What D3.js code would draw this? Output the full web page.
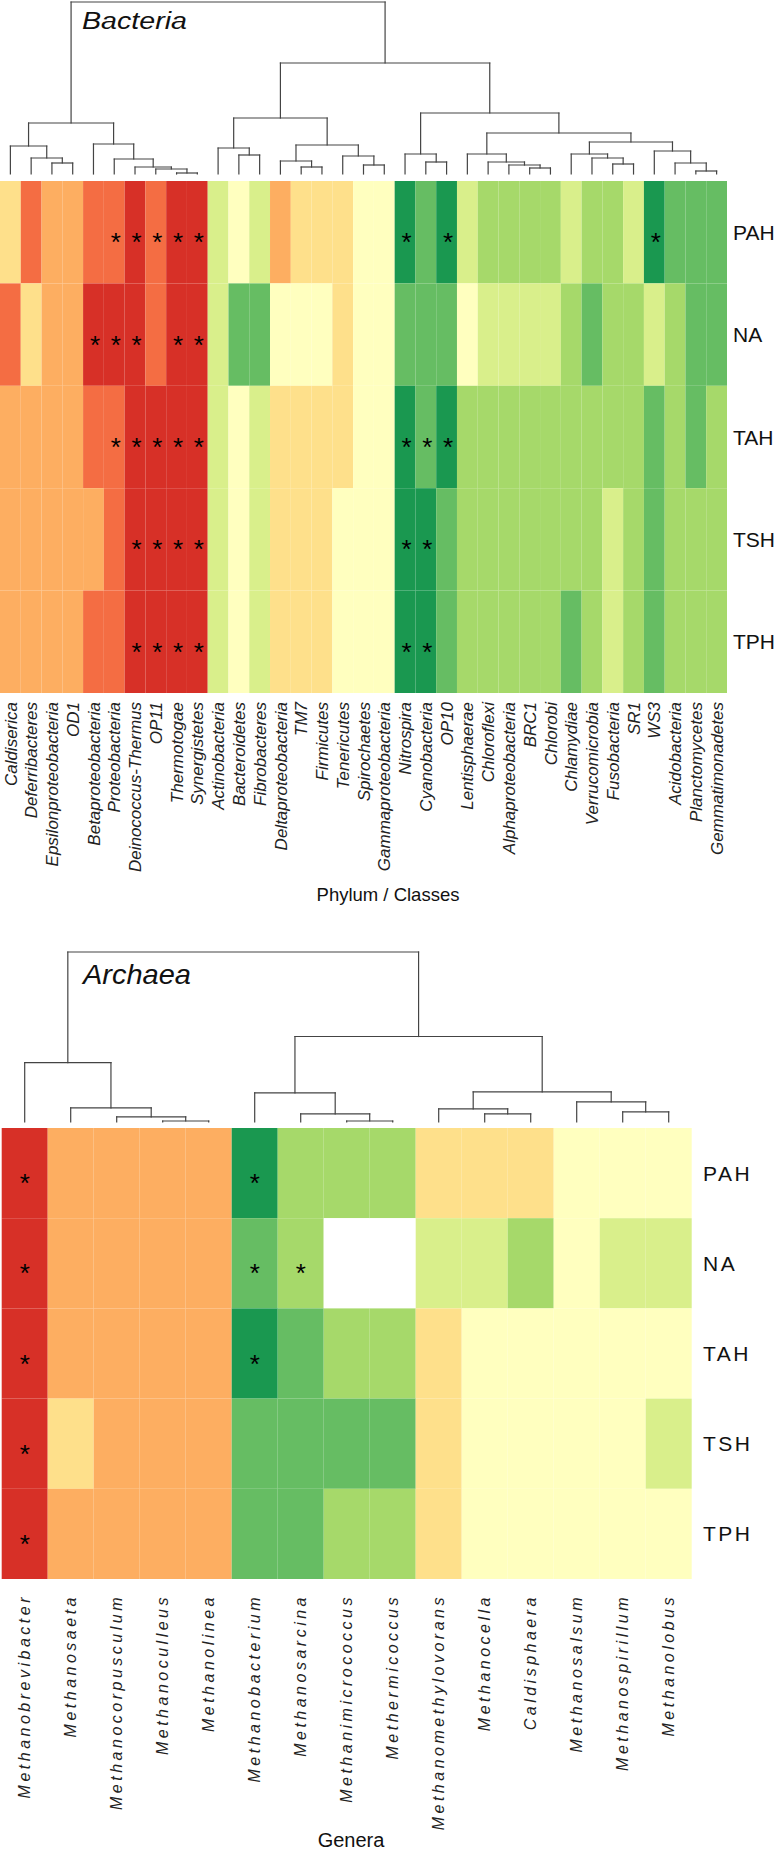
<!DOCTYPE html>
<html><head><meta charset="utf-8">
<script src="https://cdn.jsdelivr.net/npm/d3@7"></script>
<style>
body{margin:0;background:#fff}
svg{display:block}
text{font-family:"Liberation Sans",Arial,Helvetica,sans-serif;fill:#111}
</style>
</head><body>
<svg id="chart" width="780" height="1853"></svg>
<script>
// ---------------- DATA ----------------
const treatments = ["PAH", "NA", "TAH", "TSH", "TPH"];

// colour class 1 (most depleted, red) ... 9 (most enriched, dark green); null = no data
const levelColors = ["#d73027","#f46d43","#fdae61","#fee08b","#ffffbf","#d9ef8b","#a6d96a","#66bd63","#1a9850"];

const bacteriaTaxa = ["Caldiserica","Deferribacteres","Epsilonproteobacteria","OD1","Betaproteobacteria",
  "Proteobacteria","Deinococcus-Thermus","OP11","Thermotogae","Synergistetes","Actinobacteria",
  "Bacteroidetes","Fibrobacteres","Deltaproteobacteria","TM7","Firmicutes","Tenericutes","Spirochaetes",
  "Gammaproteobacteria","Nitrospira","Cyanobacteria","OP10","Lentisphaerae","Chloroflexi",
  "Alphaproteobacteria","BRC1","Chlorobi","Chlamydiae","Verrucomicrobia","Fusobacteria","SR1","WS3",
  "Acidobacteria","Planctomycetes","Gemmatimonadetes"];

const bacteriaPAH = [4,2,3,3,2,2,1,2,1,1, 6,5,6,3,4,4,4,5,5, 9,8,9,6,7,7,7,7,6,7,7,6,9,8,8,8];
const bacteriaNA  = [2,4,3,3,1,1,1,2,1,1, 6,8,8,5,5,5,4,5,5, 8,8,8,5,6,6,6,6,7,8,7,7,6,7,8,8];
const bacteriaTAH = [3,3,3,3,2,2,1,1,1,1, 6,5,6,4,4,4,4,5,5, 9,8,9,7,7,7,7,7,7,7,7,7,8,7,8,7];
const bacteriaTSH = [3,3,3,3,3,2,1,1,1,1, 6,5,6,4,4,4,5,5,5, 9,9,8,7,7,7,7,7,7,7,6,7,8,7,7,7];
const bacteriaTPH = [3,3,3,3,2,2,1,1,1,1, 6,5,6,4,4,4,5,5,5, 9,9,8,7,7,7,7,7,8,7,6,7,8,7,7,7];

const bacteriaSigPAH = ["Proteobacteria","Deinococcus-Thermus","OP11","Thermotogae","Synergistetes","Nitrospira","OP10","WS3"];
const bacteriaSigNA  = ["Betaproteobacteria","Proteobacteria","Deinococcus-Thermus","Thermotogae","Synergistetes"];
const bacteriaSigTAH = ["Proteobacteria","Deinococcus-Thermus","OP11","Thermotogae","Synergistetes","Nitrospira","Cyanobacteria","OP10"];
const bacteriaSigTSH = ["Deinococcus-Thermus","OP11","Thermotogae","Synergistetes","Nitrospira","Cyanobacteria"];
const bacteriaSigTPH = ["Deinococcus-Thermus","OP11","Thermotogae","Synergistetes","Nitrospira","Cyanobacteria"];

// dendrogram: [merge height, left, right]
const bacteriaTree =
[17.2,
  [5.1,
    [2.8, "Caldiserica", [1.6, "Deferribacteres", [1.1, "Epsilonproteobacteria", "OD1"]]],
    [3.0, "Betaproteobacteria", [1.5, "Proteobacteria", [0.7, "Deinococcus-Thermus", [0.5, "OP11", [0.1, "Thermotogae", "Synergistetes"]]]]]
  ],
  [11.1,
    [5.6,
      [2.6, "Actinobacteria", [1.9, "Bacteroidetes", "Fibrobacteres"]],
      [2.9,
        [1.3, "Deltaproteobacteria", [0.7, "TM7", "Firmicutes"]],
        [1.8, "Tenericutes", [0.9, "Spirochaetes", "Gammaproteobacteria"]]
      ]
    ],
    [6.1,
      [2.0, "Nitrospira", [1.2, "Cyanobacteria", "OP10"]],
      [4.1,
        [2.0, "Lentisphaerae", [1.2, "Chloroflexi", [0.9, "Alphaproteobacteria", [0.6, "BRC1", "Chlorobi"]]]],
        [3.2,
          [2.0, "Chlamydiae", [1.6, "Verrucomicrobia", [1.0, "Fusobacteria", "SR1"]]],
          [2.3, "WS3", [1.1, "Acidobacteria", [0.3, "Planctomycetes", "Gemmatimonadetes"]]]
        ]
      ]
    ]
  ]
];

const archaeaGenera = ["Methanobrevibacter","Methanosaeta","Methanocorpusculum","Methanoculleus","Methanolinea",
  "Methanobacterium","Methanosarcina","Methanimicrococcus","Methermicoccus","Methanomethylovorans",
  "Methanocella","Caldisphaera","Methanosalsum","Methanospirillum","Methanolobus"];

const archaeaPAH = [1,3,3,3,3,9,7,7,7,4,4,4,5,5,5];
const archaeaNA  = [1,3,3,3,3,8,7,null,null,6,6,7,5,6,6];
const archaeaTAH = [1,3,3,3,3,9,8,7,7,4,5,5,5,5,5];
const archaeaTSH = [1,4,3,3,3,8,8,8,8,4,5,5,5,5,6];
const archaeaTPH = [1,3,3,3,3,8,8,7,7,4,5,5,5,5,5];

const archaeaSigPAH = ["Methanobrevibacter","Methanobacterium"];
const archaeaSigNA  = ["Methanobrevibacter","Methanobacterium","Methanosarcina"];
const archaeaSigTAH = ["Methanobrevibacter","Methanobacterium"];
const archaeaSigTSH = ["Methanobrevibacter"];
const archaeaSigTPH = ["Methanobrevibacter"];

const archaeaTree =
[16.9,
  [5.9, "Methanobrevibacter", [1.4, "Methanosaeta", [0.5, "Methanocorpusculum", [0.1, "Methanoculleus", "Methanolinea"]]]],
  [8.5,
    [2.9, "Methanobacterium", [0.8, "Methanosarcina", [0.1, "Methanimicrococcus", "Methermicoccus"]]],
    [3.0,
      [1.3, "Methanomethylovorans", [0.8, "Methanocella", "Caldisphaera"]],
      [2.0, "Methanosalsum", [1.0, "Methanospirillum", "Methanolobus"]]
    ]
  ]
];

// ---------------- DRAWING ----------------
const svg = d3.select("#chart");
svg.append("rect").attr("width",780).attr("height",1853).attr("fill","#fff");

const color = d3.scaleOrdinal().domain(d3.range(1,10)).range(levelColors);

function drawPanel(cfg) {
  const g = svg.append("g");
  const x = d3.scaleBand().domain(cfg.taxa).range([cfg.left, cfg.right]);
  const y = d3.scaleBand().domain(treatments).range([cfg.top, cfg.bottom]);
  const h = d3.scaleLinear().domain([0, cfg.tree[0]]).range([cfg.leafY, cfg.rootY]);

  // heatmap cells
  const cells = [];
  treatments.forEach((t, ri) => cfg.values[ri].forEach((v, ci) => cells.push({t, taxon: cfg.taxa[ci], v})));
  g.append("g").selectAll("rect").data(cells).join("rect")
    .attr("x", d => x(d.taxon)).attr("y", d => y(d.t))
    .attr("width", x.bandwidth()).attr("height", y.bandwidth())
    .attr("fill", d => d.v == null ? "#ffffff" : color(d.v));

  // significance stars
  const stars = [];
  treatments.forEach((t, ri) => cfg.sig[ri].forEach(taxon => stars.push({t, taxon})));
  g.append("g").selectAll("text").data(stars).join("text")
    .attr("x", d => x(d.taxon) + x.bandwidth()/2 + cfg.starDx)
    .attr("y", d => y(d.t) + y.bandwidth()/2 + cfg.starDy)
    .attr("text-anchor", "middle")
    .style("font-size", cfg.starSize + "px")
    .style("fill", "#000")
    .text("*");

  // dendrogram
  const segs = [];
  function walk(node) {
    if (typeof node === "string") return {x: x(node) + x.bandwidth()/2, h: 0};
    const a = walk(node[1]), b = walk(node[2]);
    const hy = h(node[0]);
    segs.push([a.x, h(a.h), a.x, hy]);
    segs.push([b.x, h(b.h), b.x, hy]);
    segs.push([a.x, hy, b.x, hy]);
    return {x: (a.x + b.x)/2, h: node[0]};
  }
  walk(cfg.tree);
  g.append("g").selectAll("line").data(segs).join("line")
    .attr("x1", d => d[0]).attr("y1", d => d[1]).attr("x2", d => d[2]).attr("y2", d => d[3])
    .attr("stroke", "#444").attr("stroke-width", 1.2).attr("stroke-linecap", "square");

  // row labels
  g.append("g").selectAll("text").data(treatments).join("text")
    .attr("x", cfg.rowLabelX)
    .attr("y", d => y(d) + y.bandwidth()/2 + cfg.rowLabelSize*0.36)
    .style("font-size", cfg.rowLabelSize + "px")
    .style("letter-spacing", cfg.rowLabelSpacing + "px")
    .style("fill", "#111")
    .text(d => d);

  // column labels
  g.append("g").selectAll("text").data(cfg.taxa).join("text")
    .attr("transform", d => `translate(${x(d) + x.bandwidth()/2 + cfg.colLabelSize*0.36},${cfg.colLabelTop}) rotate(-90)`)
    .attr("text-anchor", "end")
    .style("font-size", cfg.colLabelSize + "px")
    .style("font-style", "italic")
    .style("letter-spacing", cfg.colLabelSpacing + "px")
    .style("fill", "#222")
    .text(d => d);

  // panel title
  g.append("text")
    .attr("x", cfg.titleX).attr("y", cfg.titleY)
    .style("font-size", cfg.titleSize + "px")
    .style("font-style", "italic")
    .attr("textLength", cfg.titleLen).attr("lengthAdjust", "spacingAndGlyphs")
    .text(cfg.title);

  // axis title
  g.append("text")
    .attr("x", cfg.axisX).attr("y", cfg.axisY)
    .attr("text-anchor", "middle")
    .style("font-size", cfg.axisSize + "px")
    .text(cfg.axisTitle);
}

drawPanel({
  taxa: bacteriaTaxa,
  values: [bacteriaPAH, bacteriaNA, bacteriaTAH, bacteriaTSH, bacteriaTPH],
  sig: [bacteriaSigPAH, bacteriaSigNA, bacteriaSigTAH, bacteriaSigTSH, bacteriaSigTPH],
  tree: bacteriaTree,
  left: 0, right: 727, top: 181, bottom: 693,
  leafY: 174, rootY: 2,
  starSize: 26, starDx: 1.5, starDy: 19,
  rowLabelX: 733, rowLabelSize: 21, rowLabelSpacing: 0,
  colLabelTop: 702, colLabelSize: 17, colLabelSpacing: 0,
  title: "Bacteria", titleX: 82, titleY: 29, titleSize: 23, titleLen: 105,
  axisTitle: "Phylum / Classes", axisX: 388, axisY: 901, axisSize: 18.5
});

drawPanel({
  taxa: archaeaGenera,
  values: [archaeaPAH, archaeaNA, archaeaTAH, archaeaTSH, archaeaTPH],
  sig: [archaeaSigPAH, archaeaSigNA, archaeaSigTAH, archaeaSigTSH, archaeaSigTPH],
  tree: archaeaTree,
  left: 1.7, right: 691.7, top: 1128, bottom: 1579,
  leafY: 1122, rootY: 952,
  starSize: 26, starDx: 0, starDy: 19,
  rowLabelX: 703, rowLabelSize: 21, rowLabelSpacing: 2.5,
  colLabelTop: 1594, colLabelSize: 16, colLabelSpacing: 3.5,
  title: "Archaea", titleX: 83, titleY: 984, titleSize: 28, titleLen: 108,
  axisTitle: "Genera", axisX: 351, axisY: 1847, axisSize: 20
});
</script>
</body></html>
